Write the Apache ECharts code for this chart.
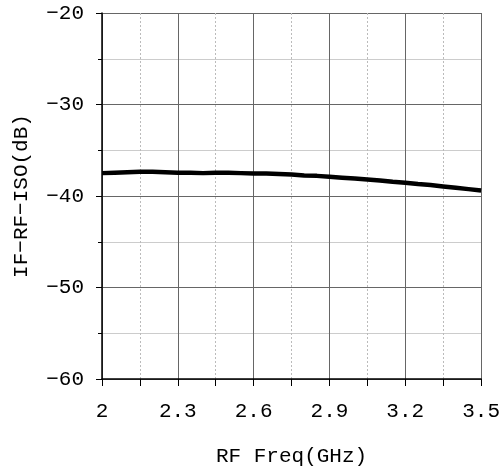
<!DOCTYPE html>
<html>
<head>
<meta charset="utf-8">
<script src="https://cdn.jsdelivr.net/npm/echarts@6/dist/echarts.min.js"></script>
<style>
  html, body { margin: 0; padding: 0; background: #fff; }
  #chart { width: 503px; height: 473px; }
</style>
</head>
<body>
<div id="chart"></div>
<script>
// data
const freq = [2.00, 2.05, 2.10, 2.15, 2.20, 2.25, 2.30, 2.35, 2.40, 2.45, 2.50,
              2.55, 2.60, 2.65, 2.70, 2.75, 2.80, 2.85, 2.90, 2.95, 3.00,
              3.05, 3.10, 3.15, 3.20, 3.25, 3.30, 3.35, 3.40, 3.45, 3.50];
const iso = [-37.5, -37.45, -37.4, -37.35, -37.35, -37.4, -37.45, -37.45, -37.5, -37.45, -37.45,
             -37.5, -37.55, -37.55, -37.6, -37.65, -37.75, -37.8, -37.9, -38.0, -38.1,
             -38.2, -38.3, -38.45, -38.55, -38.7, -38.8, -38.95, -39.1, -39.25, -39.4];
const xTicks = { min: 2, max: 3.5, step: 0.3 };
const yTicks = { min: -60, max: -20, step: 10 };

const font = 'Liberation Mono';
var myChart = echarts.init(document.getElementById('chart'));

var option = {
    animation: false,
    grid: { left: 102, top: 13, right: 20, bottom: 94 },
    xAxis: {
        type: 'value',
        min: xTicks.min,
        max: xTicks.max,
        interval: xTicks.step,
        name: 'RF Freq(GHz)',
        nameLocation: 'middle',
        nameGap: 67,
        nameTextStyle: { fontFamily: font, fontSize: 21, color: '#000' },
        axisLine: { onZero: false, lineStyle: { color: '#000', width: 1.5 } },
        axisTick: { length: 7, lineStyle: { color: '#000' } },
        minorTick: { show: true, splitNumber: 2, length: 7, lineStyle: { color: '#000' } },
        axisLabel: {
            margin: 22,
            fontFamily: font, fontSize: 21, color: '#000',
            formatter: v => (Math.round(v * 10) / 10).toString()
        },
        splitLine: { show: true, lineStyle: { color: '#666', width: 1 } },
        minorSplitLine: { show: true, lineStyle: { color: '#bbb', type: [2, 2], width: 1 } }
    },
    yAxis: {
        type: 'value',
        min: yTicks.min,
        max: yTicks.max,
        interval: yTicks.step,
        name: 'IF\u2212RF\u2212ISO(dB)',
        nameLocation: 'middle',
        nameGap: 70,
        nameTextStyle: { fontFamily: font, fontSize: 21, color: '#000' },
        axisLine: { show: true, onZero: false, lineStyle: { color: '#000', width: 1.5 } },
        axisTick: { show: true, length: 6, lineStyle: { color: '#000' } },
        minorTick: { show: true, splitNumber: 2, length: 4, lineStyle: { color: '#000' } },
        axisLabel: {
            margin: 18,
            fontFamily: font, fontSize: 21, color: '#000',
            formatter: v => String(v).replace('-', '\u2212')
        },
        splitLine: { show: true, lineStyle: { color: '#666', width: 1 } },
        minorSplitLine: { show: true, lineStyle: { color: '#ccc', width: 1 } }
    },
    series: [{
        name: 'IF-RF-ISO',
        type: 'line',
        data: freq.map((f, i) => [f, iso[i]]),
        showSymbol: false,
        lineStyle: { color: '#000', width: 4.5 }
    }]
};
myChart.setOption(option);
</script>
</body>
</html>
